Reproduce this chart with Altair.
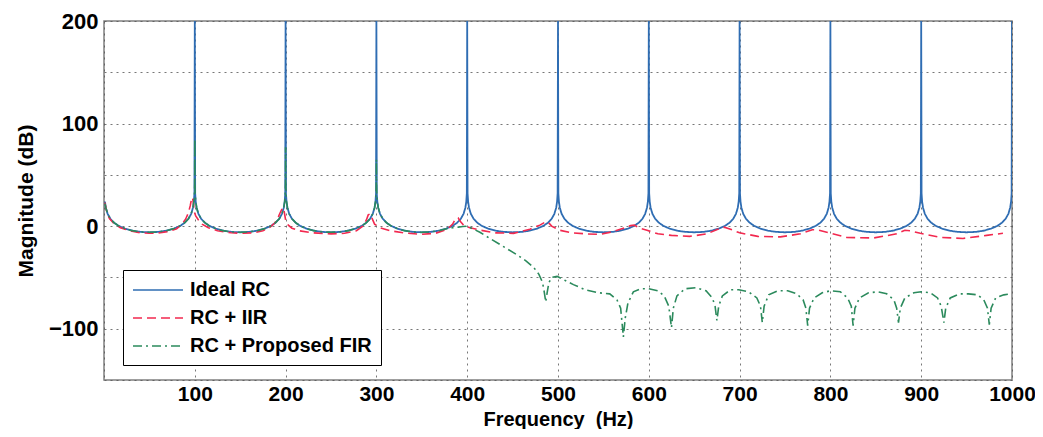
import altair as alt
import pandas as pd

# ---------------- data ----------------
ideal_x = [
    1, 2, 4, 7, 11, 16, 23, 31, 40, 50, 60, 69, 77, 84, 89, 93, 96, 98, 99, 99.6, 100,
    100.4, 101, 102, 104, 107, 111, 116, 123, 131, 140, 150, 160, 169, 177, 184, 189, 193, 196, 198, 199, 199.6, 200,
    200.4, 201, 202, 204, 207, 211, 216, 223, 231, 240, 250, 260, 269, 277, 284, 289, 293, 296, 298, 299, 299.6, 300,
    300.4, 301, 302, 304, 307, 311, 316, 323, 331, 340, 350, 360, 369, 377, 384, 389, 393, 396, 398, 399, 399.6, 400,
    400.4, 401, 402, 404, 407, 411, 416, 423, 431, 440, 450, 460, 469, 477, 484, 489, 493, 496, 498, 499, 499.6, 500,
    500.4, 501, 502, 504, 507, 511, 516, 523, 531, 540, 550, 560, 569, 577, 584, 589, 593, 596, 598, 599, 599.6, 600,
    600.4, 601, 602, 604, 607, 611, 616, 623, 631, 640, 650, 660, 669, 677, 684, 689, 693, 696, 698, 699, 699.6, 700,
    700.4, 701, 702, 704, 707, 711, 716, 723, 731, 740, 750, 760, 769, 777, 784, 789, 793, 796, 798, 799, 799.6, 800,
    800.4, 801, 802, 804, 807, 811, 816, 823, 831, 840, 850, 860, 869, 877, 884, 889, 893, 896, 898, 899, 899.6, 900,
    900.4, 901, 902, 904, 907, 911, 916, 923, 931, 940, 950, 960, 969, 977, 984, 989, 993, 996, 998, 999, 999.6, 1000,
]
ideal_y = [
    24, 18, 12, 7.2, 3.4, 0.3, -2.4, -4.4, -5.6, -6.0, -5.6, -4.4, -2.4, 0.3, 3.4, 7.2, 12, 18, 24, 32, 200,
    32, 24, 18, 12, 7.2, 3.4, 0.3, -2.4, -4.4, -5.6, -6.0, -5.6, -4.4, -2.4, 0.3, 3.4, 7.2, 12, 18, 24, 32, 200,
    32, 24, 18, 12, 7.2, 3.4, 0.3, -2.4, -4.4, -5.6, -6.0, -5.6, -4.4, -2.4, 0.3, 3.4, 7.2, 12, 18, 24, 32, 200,
    32, 24, 18, 12, 7.2, 3.4, 0.3, -2.4, -4.4, -5.6, -6.0, -5.6, -4.4, -2.4, 0.3, 3.4, 7.2, 12, 18, 24, 32, 200,
    32, 24, 18, 12, 7.2, 3.4, 0.3, -2.4, -4.4, -5.6, -6.0, -5.6, -4.4, -2.4, 0.3, 3.4, 7.2, 12, 18, 24, 32, 200,
    32, 24, 18, 12, 7.2, 3.4, 0.3, -2.4, -4.4, -5.6, -6.0, -5.6, -4.4, -2.4, 0.3, 3.4, 7.2, 12, 18, 24, 32, 200,
    32, 24, 18, 12, 7.2, 3.4, 0.3, -2.4, -4.4, -5.6, -6.0, -5.6, -4.4, -2.4, 0.3, 3.4, 7.2, 12, 18, 24, 32, 200,
    32, 24, 18, 12, 7.2, 3.4, 0.3, -2.4, -4.4, -5.6, -6.0, -5.6, -4.4, -2.4, 0.3, 3.4, 7.2, 12, 18, 24, 32, 200,
    32, 24, 18, 12, 7.2, 3.4, 0.3, -2.4, -4.4, -5.6, -6.0, -5.6, -4.4, -2.4, 0.3, 3.4, 7.2, 12, 18, 24, 32, 200,
    32, 24, 18, 12, 7.2, 3.4, 0.3, -2.4, -4.4, -5.6, -6.0, -5.6, -4.4, -2.4, 0.3, 3.4, 7.2, 12, 18, 24, 32, 200,
]

iir_x = [
    1, 3, 6, 11, 18, 28, 40, 50, 62, 72, 80, 86, 90, 93, 95, 96.5, 97.5, 98.5, 99.5,
    101, 104, 108, 115, 125, 140, 150, 165, 175, 183, 188, 192, 195, 197, 198.5,
    200, 203, 207, 215, 230, 250, 265, 278, 285, 289, 291, 293, 295, 298,
    304, 315, 330, 348, 365, 378, 384, 387, 390, 393, 397,
    403, 415, 430, 451, 469, 480, 486, 489, 493,
    502, 515, 530, 546, 560, 572, 580, 584, 590, 598,
    610, 625, 645, 664, 676, 683, 690,
    700, 720, 745, 767, 780, 785, 796,
    818, 848, 873, 882, 888, 899,
    921, 946, 972, 990,
]
iir_y = [
    23, 14, 7.5, 2.5, -1.5, -4.5, -6.5, -7, -6.5, -5, -2.5, 2, 7, 13, 20, 27, 28, 22, 14,
    10, 6, 2, -1.5, -4.5, -6.5, -7, -6.5, -4.5, -1, 3, 9, 15, 18, 14,
    6, 1, -2, -4.5, -6.5, -7.5, -7, -4.5, 0, 6, 11, 12, 8, 2,
    -1.5, -4.5, -6.5, -8, -7, -3, 2, 7, 8, 4, 0,
    -1.5, -4, -6.5, -7, -3, 1, 4, 4, 0,
    -4, -6.5, -7.5, -8, -5.5, -2, 0.5, 1, -2, -4,
    -7.5, -9, -10, -7.5, -3, -1, -3,
    -6.5, -10, -10.5, -7.5, -3.5, -3.5, -6,
    -11, -11.5, -7.5, -4, -4.5, -7,
    -11, -12, -9, -7,
]

fir_x = [
    1, 2, 4, 7, 11, 16, 23, 31, 40, 50, 60, 69, 77, 84, 89, 93, 96, 98, 99, 99.6, 99.9, 100,
    100.1, 100.4, 101, 102, 104, 107, 111, 116, 123, 131, 140, 150, 160, 169, 177, 184, 189, 193, 196, 198, 199, 199.6, 199.9, 200,
    200.1, 200.4, 201, 202, 204, 207, 211, 216, 223, 231, 240, 250, 260, 269, 277, 284, 289, 293, 296, 298, 299, 299.6, 299.9, 300,
    300.1, 300.4, 301, 302, 304, 307, 311, 316, 323, 331, 340, 350, 360, 369, 377, 384, 390, 395, 400,
    407, 414, 425, 440, 455, 465, 473, 479, 483, 485, 486.5, 488, 490, 493, 499,
    508, 517, 530, 545, 557, 565, 569, 572, 574, 577, 583, 591,
    600, 610, 617, 622, 625, 627, 631, 640, 652, 663, 670, 673, 675, 677, 681, 690,
    699, 710, 719, 723, 725, 727, 732, 742, 753, 763, 770, 773, 775, 777, 782, 791,
    800, 811, 819, 823, 825, 827, 832, 842, 852, 862, 870, 873, 875, 877, 882, 892,
    900, 910, 918, 922, 925, 927, 932, 942, 952, 962, 969, 973, 975, 977, 982, 991, 999,
]
fir_y = [
    22, 18, 12, 7.2, 3.4, 0.3, -2.4, -4.4, -5.6, -6.0, -5.6, -4.4, -2.4, 0.3, 3.4, 7.2, 12, 18, 24, 32, 42, 85,
    42, 32, 24, 18, 12, 7.2, 3.4, 0.3, -2.4, -4.4, -5.6, -6.0, -5.6, -4.4, -2.4, 0.3, 3.4, 7.2, 12, 18, 24, 32, 42, 77,
    42, 32, 24, 18, 12, 7.2, 3.4, 0.3, -2.4, -4.4, -5.6, -6.0, -5.6, -4.4, -2.4, 0.3, 3.4, 7.2, 12, 18, 24, 32, 42, 65,
    42, 32, 24, 18, 12, 7.2, 3.4, 0.3, -2.4, -4.4, -5.6, -6.0, -5.6, -4.4, -2.6, -1.5, -1, -0.3, 0,
    -3, -6, -12, -20, -28, -34, -40, -47, -55, -65, -74, -65, -55, -50, -49,
    -53, -57, -62, -65, -66, -72, -80, -108, -90, -75, -64, -61,
    -61, -63, -68, -78, -99, -80, -68, -61, -60, -63, -70, -78, -92, -78, -68, -62,
    -62, -64, -70, -78, -94, -78, -67, -63, -63, -66, -72, -80, -97, -80, -70, -65,
    -63, -64, -70, -78, -97, -80, -70, -65, -64, -66, -72, -80, -94, -80, -70, -65,
    -64, -65, -70, -78, -94, -80, -70, -66, -66, -67, -72, -80, -96, -80, -70, -67, -66,
]

series_names = ["Ideal RC", "RC + IIR", "RC + Proposed FIR"]
series_colors = ["#2f6db3", "#f2294f", "#2b8a5c"]
series_dashes = [[1, 0], [9, 5], [9, 4, 2, 4]]
series_widths = [1.8, 1.6, 1.6]
x_ticks = [0, 100, 200, 300, 400, 500, 600, 700, 800, 900, 1000]
y_ticks = [-150, -100, -50, 0, 50, 100, 150, 200]

# ---------------- build table ----------------
frames = []
for name, xs, ys in zip(series_names, [ideal_x, iir_x, fir_x], [ideal_y, iir_y, fir_y]):
    frames.append(pd.DataFrame({"f": xs, "mag": ys, "series": name}))
df = pd.concat(frames, ignore_index=True)

FONT = "Liberation Sans"

legend_def = alt.Legend(
    title=None,
    orient="none",
    legendX=19,
    legendY=249,
    symbolType="M-1,0H4",
    symbolSize=400,
    symbolStrokeWidth=1.6,
    labelFont=FONT,
    labelFontSize=20,
    labelFontWeight="bold",
    labelColor="black",
    labelLimit=400,
    labelOffset=36,
    fillColor="white",
    strokeColor="black",
    padding=9,
    rowPadding=7,
    cornerRadius=0,
)

x_enc = alt.X(
    "f:Q",
    scale=alt.Scale(domain=[0, 1000], nice=False, zero=False),
    axis=alt.Axis(
        values=x_ticks,
        format="d",
        labelExpr="datum.value == 0 ? '' : datum.label",
        title="Frequency\u00a0 (Hz)",
        labelFontSize=21,
        labelPadding=3,
        titleFontSize=20,
        titleBaseline="alphabetic",
        titleY=45,
        labelFlush=False,
        labelOverlap=False,
    ),
)
y_enc = alt.Y(
    "mag:Q",
    scale=alt.Scale(domain=[-150, 200], nice=False, zero=False),
    axis=alt.Axis(
        values=y_ticks,
        labelExpr="datum.value % 100 == 0 ? datum.label : ''",
        title="Magnitude (dB)",
        labelPadding=6,
        titlePadding=12,
        labelFlush=False,
        labelOverlap=False,
    ),
)
color_enc = alt.Color(
    "series:N",
    scale=alt.Scale(domain=series_names, range=series_colors),
    legend=legend_def,
)
dash_enc = alt.StrokeDash(
    "series:N",
    scale=alt.Scale(domain=series_names, range=series_dashes),
    legend=legend_def,
)

layers = []
for name, w in zip(series_names, series_widths):
    layers.append(
        alt.Chart(df)
        .transform_filter(alt.datum.series == name)
        .mark_line(strokeWidth=w, clip=True)
        .encode(x=x_enc, y=y_enc, color=color_enc, strokeDash=dash_enc)
    )

chart = (
    alt.layer(*layers)
    .properties(
        width=908,
        height=359,
        autosize=alt.AutoSizeParams(type="none"),
        padding={"left": 96, "top": 13, "right": 23, "bottom": 49},
        background="white",
    )
    .configure_view(stroke="#808080", strokeWidth=1.5)
    .configure_axis(
        labelFont=FONT,
        labelFontSize=22,
        labelFontWeight="bold",
        labelColor="black",
        titleFont=FONT,
        titleFontSize=21,
        titleFontWeight="bold",
        titleColor="black",
        grid=True,
        gridColor="#555555",
        gridDash=[2, 4],
        gridWidth=1,
        gridOpacity=0.8,
        ticks=False,
        domain=False,
    )
)

chart.save("out.html", embed_options={"renderer": "svg", "actions": False})
